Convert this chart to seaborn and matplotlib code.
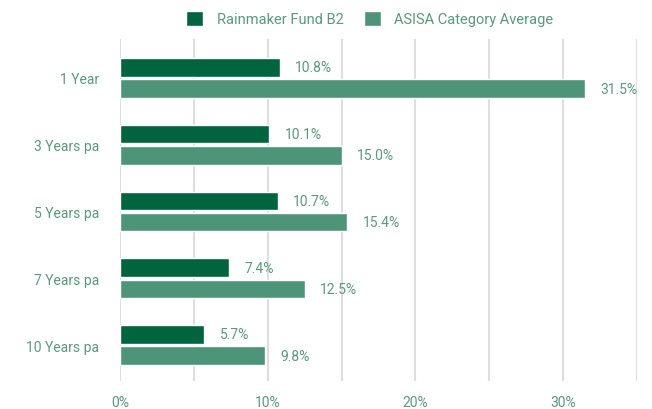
import pandas as pd
import numpy as np
import matplotlib.pyplot as plt
import seaborn as sns

periods = ['1 Year', '3 Years pa', '5 Years pa', '7 Years pa', '10 Years pa']
fund = [10.8, 10.1, 10.7, 7.4, 5.7]
category = [31.5, 15.0, 15.4, 12.5, 9.8]
series = ['Rainmaker Fund B2', 'ASISA Category Average']

colors = {'Rainmaker Fund B2': '#00643f',
          'ASISA Category Average': '#4d9479'}
txt = '#5a9880'

df = pd.DataFrame({'period': periods * 2,
                   'value': fund + category,
                   'series': [series[0]] * 5 + [series[1]] * 5})

sns.set_style('white')
plt.rcParams['font.family'] = ['Roboto', 'DejaVu Sans']

fig = plt.figure(figsize=(6.52, 4.10), dpi=100)
ax = fig.add_axes([0.184, 0.068, 0.793, 0.834])

sns.barplot(data=df, y='period', x='value', hue='series', orient='h',
            palette=colors, width=0.64, gap=0.13, ax=ax, saturation=1)

for c in ax.containers:
    ax.bar_label(c, fmt='%.1f%%', padding=11, color=txt, fontsize=10)

ax.set_xlim(0, 35)
ax.set_ylim(4.54, -0.58)
ax.set_xticks(np.arange(0, 36, 5))
ax.set_xticklabels([f'{v}%' if v % 10 == 0 else '' for v in range(0, 36, 5)])
ax.xaxis.grid(True, color='#dedede', lw=1.5)
ax.set_axisbelow(True)
sns.despine(ax=ax, left=True, bottom=True)
ax.tick_params(axis='x', length=0, pad=10, labelcolor=txt, labelsize=10)
ax.tick_params(axis='y', length=0, pad=15, labelcolor=txt, labelsize=10)
ax.set_xlabel('')
ax.set_ylabel('')

leg = ax.legend(loc='lower center', bbox_to_anchor=(0.483, 1.0), ncol=2,
                frameon=False, handlelength=1.2, handleheight=1.2,
                columnspacing=1.4, handletextpad=0.9, fontsize=10.5)
for t in leg.get_texts():
    t.set_color(txt)

fig.savefig('out.png', dpi=100)
